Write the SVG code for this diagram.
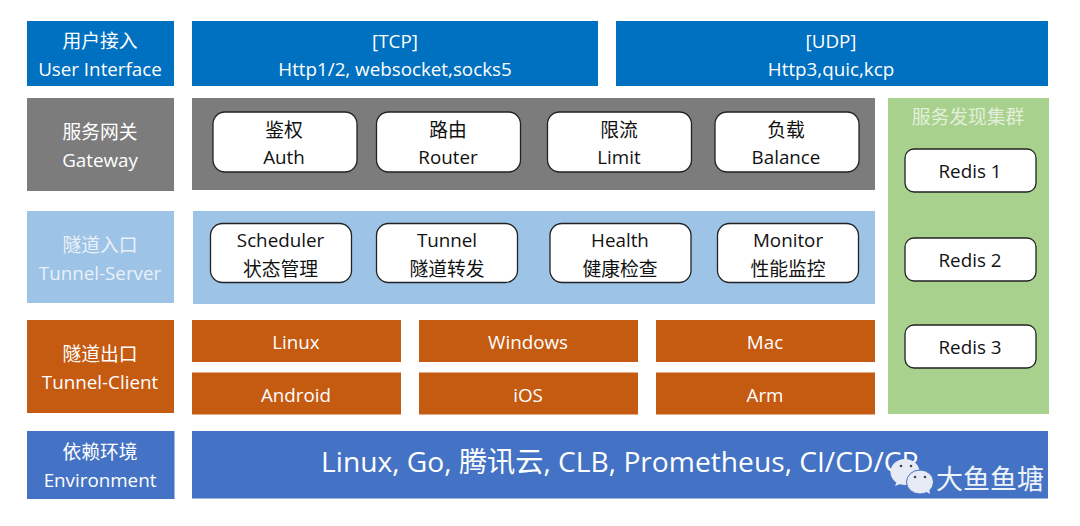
<svg xmlns="http://www.w3.org/2000/svg" width="1080" height="526" viewBox="0 0 1080 526">
<style>
text{font-family:"Open Sans","Noto Sans CJK SC",sans-serif;text-anchor:middle;font-size:18.8px}
.w{fill:#fff}
.pale{fill:#eaf1f9}
.k{fill:#111}
.blue{fill:#0070c0}.grey{fill:#7c7c7c}.lb{fill:#9dc3e6}.or{fill:#c55a11}.env{fill:#4472c4}.gr{fill:#a9d18e}
.n{fill:#fff;stroke:#222;stroke-width:1.3}
</style>
<rect width="1080" height="526" fill="#fff"/>
<g id="connectors"/>
<g id="layer-user"><rect class="blue" x="27" y="21" width="147" height="65"/><text class="w" x="100" y="48">用户接入</text><text class="w" x="100" y="76">User Interface</text></g>
<g id="tcp"><rect class="blue" x="192" y="21" width="406" height="65"/><text class="w" x="395" y="48">[TCP]</text><text class="w" x="395" y="76">Http1/2, websocket,socks5</text></g>
<g id="udp"><rect class="blue" x="616" y="21" width="432" height="65"/><text class="w" x="831" y="48">[UDP]</text><text class="w" x="831" y="76">Http3,quic,kcp</text></g>

<g id="layer-gateway"><rect class="grey" x="27" y="98" width="147" height="93"/><text class="w" x="100" y="139">服务网关</text><text class="w" x="100" y="167">Gateway</text></g>
<g id="gateway"><rect class="grey" x="192" y="98" width="683" height="92"/></g>
<g id="auth"><rect class="n" x="213" y="112" width="144" height="60" rx="12"/><text class="k" x="284" y="137">鉴权</text><text class="k" x="284" y="164">Auth</text></g>
<g id="router"><rect class="n" x="376.500" y="112" width="144" height="60" rx="12"/><text class="k" x="448" y="137">路由</text><text class="k" x="448" y="164">Router</text></g>
<g id="limit"><rect class="n" x="547.500" y="112" width="144" height="60" rx="12"/><text class="k" x="619" y="137">限流</text><text class="k" x="619" y="164">Limit</text></g>
<g id="balance"><rect class="n" x="715" y="112" width="144" height="60" rx="12"/><text class="k" x="786" y="137">负载</text><text class="k" x="786" y="164">Balance</text></g>

<g id="layer-server"><rect class="lb" x="27" y="211" width="147" height="92"/><text class="pale" x="100" y="252">隧道入口</text><text class="pale" x="100" y="280">Tunnel-Server</text></g>
<g id="server"><rect class="lb" x="193" y="211" width="682" height="93"/></g>
<g id="scheduler"><rect class="n" x="210.500" y="223.500" width="141" height="59" rx="12"/><text class="k" x="280.500" y="247">Scheduler</text><text class="k" x="280.500" y="276">状态管理</text></g>
<g id="tunnel"><rect class="n" x="376.500" y="223.500" width="141" height="59" rx="12"/><text class="k" x="447" y="247">Tunnel</text><text class="k" x="447" y="276">隧道转发</text></g>
<g id="health"><rect class="n" x="550" y="223.500" width="141" height="59" rx="12"/><text class="k" x="620" y="247">Health</text><text class="k" x="620" y="276">健康检查</text></g>
<g id="monitor"><rect class="n" x="717.500" y="223.500" width="141" height="59" rx="12"/><text class="k" x="788" y="247">Monitor</text><text class="k" x="788" y="276">性能监控</text></g>

<g id="layer-client"><rect class="or" x="27" y="320" width="147" height="93"/><text class="w" x="100" y="361">隧道出口</text><text class="w" x="100" y="389">Tunnel-Client</text></g>
<g id="linux"><rect class="or" x="192" y="320" width="209" height="42"/><text class="w" x="296" y="349">Linux</text></g>
<g id="windows"><rect class="or" x="419" y="320" width="219" height="42"/><text class="w" x="528" y="349">Windows</text></g>
<g id="mac"><rect class="or" x="656" y="320" width="219" height="42"/><text class="w" x="765" y="349">Mac</text></g>
<g id="android"><rect class="or" x="192" y="372.500" width="209" height="42"/><text class="w" x="296" y="402">Android</text></g>
<g id="ios"><rect class="or" x="419" y="372.500" width="219" height="42"/><text class="w" x="528" y="402">iOS</text></g>
<g id="arm"><rect class="or" x="656" y="372.500" width="219" height="42"/><text class="w" x="765" y="402">Arm</text></g>

<g id="layer-env"><rect class="env" x="27" y="431" width="147.500" height="68"/><text class="w" x="100" y="459">依赖环境</text><text class="w" x="100" y="487">Environment</text></g>
<g id="env"><rect class="env" x="192" y="431" width="856" height="67.500"/><text class="w" x="620" y="472" style="font-size:28.2px">Linux, Go, 腾讯云, CLB, Prometheus, CI/CD/CR</text></g>

<g id="discovery"><rect class="gr" x="888" y="98" width="161" height="316"/><text x="968" y="124" style="fill:#e3efda">服务发现集群</text></g>
<g id="redis1"><rect class="n" x="905" y="149" width="131" height="43" rx="9"/><text class="k" x="970" y="178">Redis 1</text></g>
<g id="redis2"><rect class="n" x="905" y="238" width="131" height="43" rx="9"/><text class="k" x="970" y="267">Redis 2</text></g>
<g id="redis3"><rect class="n" x="905" y="325" width="131" height="43" rx="9"/><text class="k" x="970" y="354">Redis 3</text></g>

<g id="watermark">
<ellipse cx="905" cy="472" rx="14.500" ry="13" fill="#e6ebf5"/>
<path d="M897 481l-2 5 8-3z" fill="#e6ebf5"/>
<ellipse cx="920" cy="482" rx="13.500" ry="12" fill="#e6ebf5" stroke="#4472c4" stroke-width="1"/>
<path d="M925 491l5 3-1-6z" fill="#e6ebf5"/>
<circle cx="901" cy="466" r="1.300" fill="#445"/><circle cx="911" cy="466" r="1.300" fill="#445"/>
<circle cx="915" cy="477" r="1.300" fill="#445"/><circle cx="925" cy="477" r="1.300" fill="#445"/>
<text x="990" y="489" style="font-size:27px;fill:#eef2fa">大鱼鱼塘</text>
</g>
</svg>
